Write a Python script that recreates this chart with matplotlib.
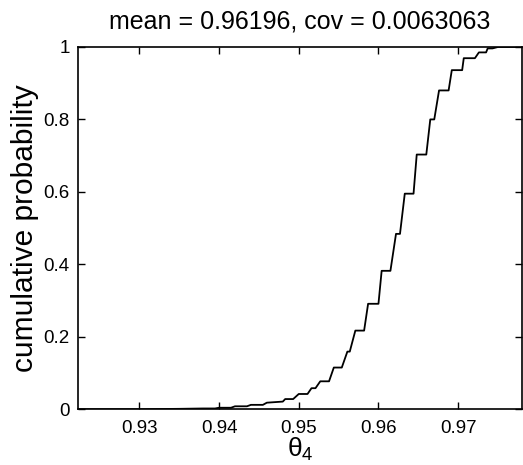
import matplotlib
matplotlib.use("Agg")
import matplotlib.pyplot as plt

theta4 = [0.9223, 0.9300, 0.9350, 0.9380, 0.9395, 0.9400, 0.9415, 0.9420, 0.9435,
          0.9440, 0.9455, 0.9460, 0.9480, 0.9483, 0.9493, 0.9500, 0.9511, 0.9516,
          0.9521, 0.9527, 0.9538, 0.9544, 0.9554, 0.9561, 0.9564, 0.9571, 0.9582,
          0.9587, 0.9600, 0.9604, 0.9615, 0.9622, 0.9627, 0.9633, 0.9644, 0.9648,
          0.9660, 0.9665, 0.9670, 0.9676, 0.9688, 0.9692, 0.9705, 0.9707, 0.9721,
          0.9726, 0.9735, 0.9737, 0.9743, 0.9750, 0.9780]
cum_prob = [0.000, 0.000, 0.001, 0.002, 0.002, 0.004, 0.004, 0.008, 0.008,
            0.012, 0.012, 0.018, 0.021, 0.028, 0.028, 0.042, 0.042, 0.058,
            0.058, 0.077, 0.077, 0.115, 0.115, 0.159, 0.159, 0.217, 0.217,
            0.291, 0.291, 0.382, 0.382, 0.484, 0.484, 0.595, 0.595, 0.703,
            0.703, 0.800, 0.800, 0.880, 0.880, 0.936, 0.936, 0.969, 0.969,
            0.985, 0.985, 0.996, 0.996, 1.000, 1.000]

xticks = [0.93, 0.94, 0.95, 0.96, 0.97]
yticks = [0, 0.2, 0.4, 0.6, 0.8, 1]
ytick_labels = ["0", "0.2", "0.4", "0.6", "0.8", "1"]
title = "mean = 0.96196, cov = 0.0063063"

plt.rcParams['font.family'] = ['Liberation Sans', 'DejaVu Sans']
plt.rcParams['mathtext.fontset'] = 'custom'
plt.rcParams['mathtext.rm'] = 'Liberation Sans'
plt.rcParams['mathtext.it'] = 'Liberation Sans'

fig = plt.figure(figsize=(5.23, 4.65), dpi=100)
ax = fig.add_axes([0.149, 0.120, 0.849, 0.779])
ax.plot(theta4, cum_prob, color='black', linewidth=1.3)
ax.set_xlim(0.9223, 0.978)
ax.set_ylim(0, 1)
ax.set_xticks(xticks)
ax.set_xticklabels([f"{t:.2f}" for t in xticks])
ax.set_yticks(yticks)
ax.set_yticklabels(ytick_labels)
ax.tick_params(direction='in', top=True, right=True, length=5, width=1,
               labelsize=13.5)
ax.tick_params(axis='x', pad=8)
ax.tick_params(axis='y', pad=6)
for s in ax.spines.values():
    s.set_linewidth(1.2)
ax.set_title(title, fontsize=18, pad=13)
ax.set_xlabel(r'$\theta_4$', fontsize=19, labelpad=-1)
ax.set_ylabel('cumulative probability', fontsize=21.5, labelpad=3)
fig.savefig('out.png', dpi=100)
